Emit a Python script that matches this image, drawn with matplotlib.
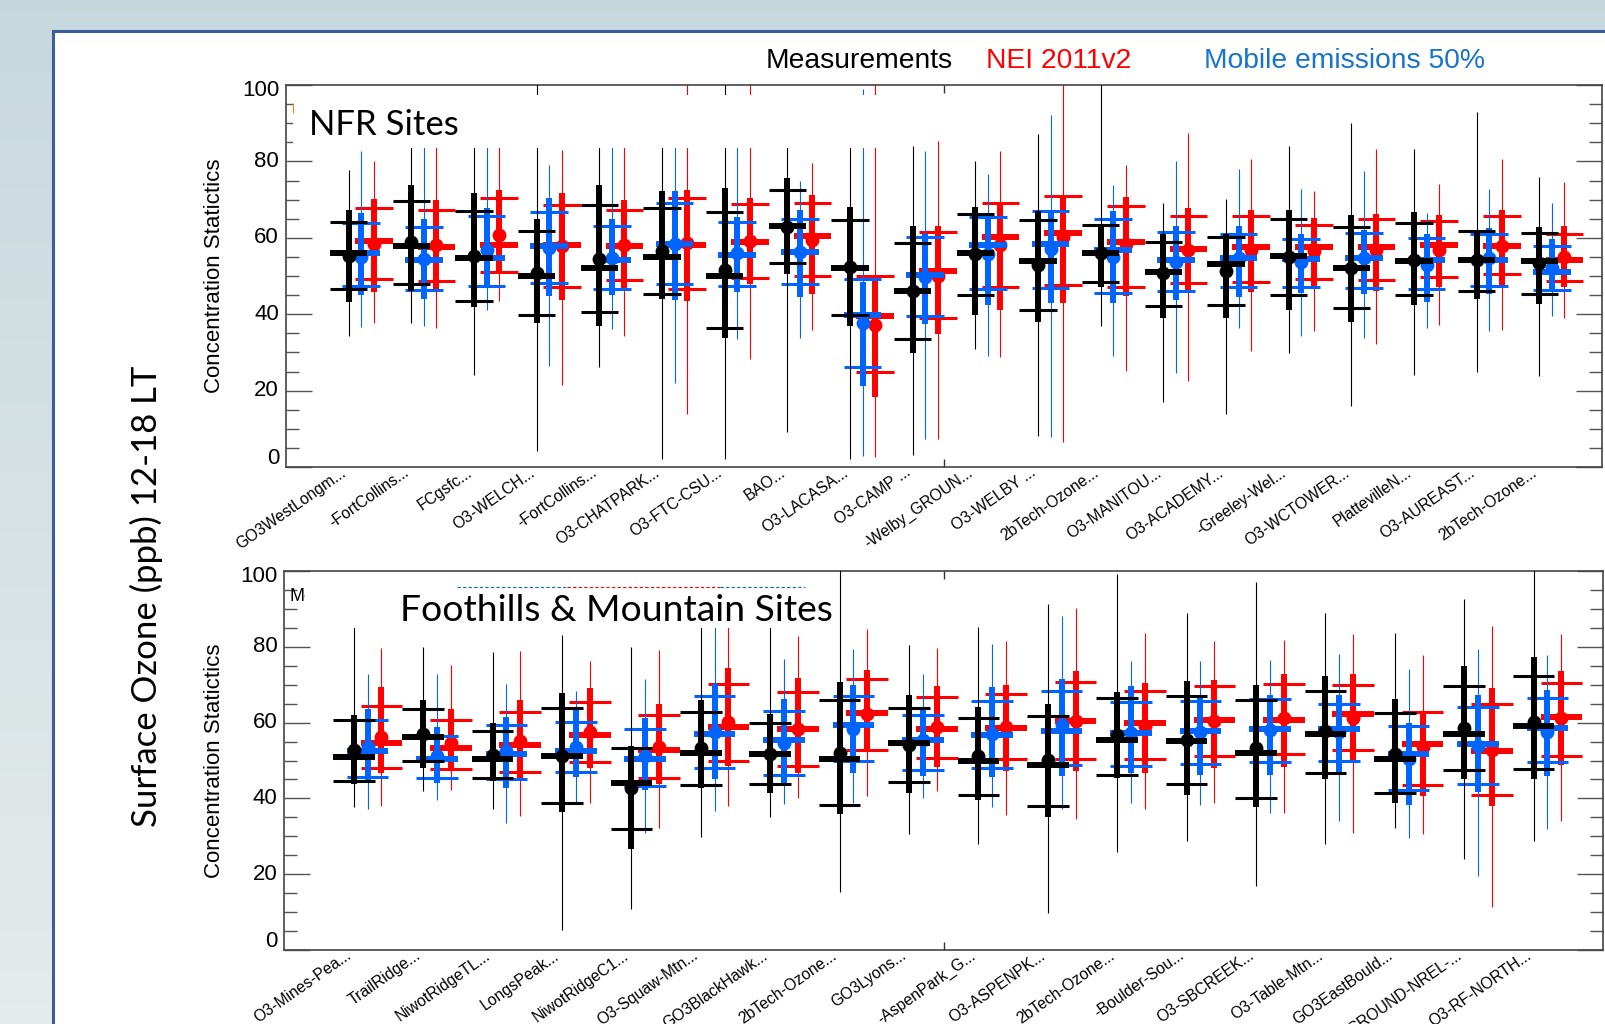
import matplotlib
matplotlib.use('Agg')
import matplotlib.pyplot as plt
import numpy as np
from matplotlib.patches import Rectangle
from matplotlib.ticker import FixedLocator, MultipleLocator

plt.rcParams['font.family'] = ['Liberation Sans', 'DejaVu Sans']

# station names along the x axis
NFR_SITES = ['GO3WestLongm...', '-FortCollins...', 'FCgsfc...', 'O3-WELCH...',
             '-FortCollins...', 'O3-CHATPARK...', 'O3-FTC-CSU...', 'BAO...',
             'O3-LACASA...', 'O3-CAMP ...', '-Welby_GROUN...', 'O3-WELBY ...',
             '2bTech-Ozone...', 'O3-MANITOU...', 'O3-ACADEMY...', '-Greeley-Wel...',
             'O3-WCTOWER...', 'PlattevilleN...', 'O3-AUREAST...', '2bTech-Ozone...']
MTN_SITES = ['O3-Mines-Pea...', 'TrailRidge...', 'NiwotRidgeTL...', 'LongsPeak...',
             'NiwotRidgeC1...', 'O3-Squaw-Mtn...', 'GO3BlackHawk...', '2bTech-Ozone...',
             'GO3Lyons...', '-AspenPark_G...', 'O3-ASPENPK...', '2bTech-Ozone...',
             '-Boulder-Sou...', 'O3-SBCREEK...', 'O3-Table-Mtn...', 'GO3EastBould...',
             'GROUND-NREL-...', 'O3-RF-NORTH...']

# rows: min, p10, p25, median, mean, p75, p90, max  (ppb)
NFR_MEAS = [
    [34.3, 43.1, 46.7, 55.9, 55.3, 64.2, 67.4, 77.7],
    [37.8, 46.0, 48.0, 57.9, 58.8, 69.7, 73.9, 90.0],
    [24.1, 41.9, 43.5, 54.6, 55.3, 67.0, 71.8, 90.0],
    [4.2, 37.8, 39.8, 50.0, 50.8, 61.7, 65.0, 102.0],
    [26.1, 37.0, 40.5, 52.0, 54.4, 68.7, 73.9, 90.0],
    [2.0, 44.1, 45.2, 55.0, 56.6, 67.7, 72.2, 90.0],
    [2.0, 33.8, 36.3, 50.0, 51.7, 66.8, 73.1, 102.0],
    [9.1, 50.5, 53.3, 63.0, 62.9, 72.4, 75.7, 90.0],
    [2.0, 37.0, 39.8, 52.1, 52.4, 64.6, 68.1, 90.0],
    [3.1, 29.9, 33.4, 46.1, 46.1, 58.7, 63.1, 84.0],
    [31.0, 39.9, 45.0, 56.1, 55.7, 66.3, 68.1, 80.0],
    [8.1, 38.0, 41.2, 54.0, 52.8, 64.6, 67.0, 87.1],
    [37.0, 47.0, 48.5, 56.1, 55.9, 63.3, 63.3, 102.0],
    [17.1, 38.9, 42.2, 51.1, 50.7, 58.9, 61.1, 69.1],
    [14.0, 38.9, 42.5, 53.1, 51.4, 60.1, 60.9, 70.1],
    [29.9, 41.1, 45.0, 55.2, 55.0, 65.0, 67.2, 84.0],
    [16.0, 38.0, 41.5, 52.2, 52.2, 62.7, 65.9, 90.1],
    [24.1, 42.4, 45.0, 53.9, 54.1, 63.9, 66.8, 83.2],
    [24.9, 44.1, 46.1, 54.1, 54.1, 61.7, 61.8, 92.9],
    [23.8, 42.6, 45.4, 54.0, 53.4, 61.3, 62.9, 75.9],
]
NFR_NEI = [
    [37.8, 45.9, 49.2, 59.2, 58.5, 67.8, 70.1, 80.0],
    [36.3, 45.9, 48.7, 57.6, 58.1, 67.4, 70.0, 90.0],
    [43.5, 51.1, 51.1, 58.2, 60.7, 70.3, 72.6, 90.0],
    [21.4, 43.7, 47.2, 58.1, 57.9, 68.7, 71.6, 83.0],
    [34.4, 46.7, 48.9, 57.9, 58.2, 67.4, 70.0, 90.0],
    [13.8, 43.5, 46.5, 58.2, 58.7, 70.4, 72.6, 102.0],
    [28.2, 47.9, 49.6, 58.8, 59.2, 68.8, 70.3, 102.0],
    [35.8, 45.2, 50.0, 60.5, 59.5, 69.0, 71.1, 79.7],
    [2.7, 18.4, 24.9, 39.6, 37.3, 50.0, 50.0, 102.0],
    [7.3, 34.8, 38.9, 51.4, 50.0, 61.6, 63.1, 85.3],
    [28.7, 41.2, 47.2, 60.2, 58.1, 69.0, 69.1, 82.7],
    [6.6, 43.0, 47.6, 61.3, 60.2, 70.9, 71.3, 102.0],
    [25.2, 44.7, 47.0, 58.9, 58.5, 68.4, 70.7, 79.0],
    [22.5, 45.6, 48.2, 57.0, 56.8, 65.6, 67.7, 87.5],
    [30.3, 45.7, 48.5, 57.6, 56.8, 65.6, 67.4, 80.5],
    [35.7, 47.3, 49.2, 57.6, 56.6, 63.3, 65.2, 72.2],
    [32.3, 46.1, 48.9, 57.5, 56.8, 65.0, 66.1, 83.2],
    [37.3, 47.2, 49.8, 58.2, 56.8, 64.4, 65.9, 74.2],
    [35.8, 47.6, 50.5, 57.9, 57.9, 65.6, 67.4, 80.6],
    [39.1, 47.0, 48.6, 54.1, 55.0, 60.9, 63.0, 74.6],
]
NFR_MOB50 = [
    [36.7, 45.0, 47.4, 56.1, 55.0, 63.9, 66.6, 82.6],
    [36.9, 43.9, 46.3, 54.1, 54.4, 62.7, 64.8, 90.0],
    [41.1, 47.0, 47.4, 54.6, 56.8, 65.6, 67.7, 90.0],
    [26.5, 44.7, 48.2, 57.9, 57.2, 66.8, 70.3, 79.0],
    [36.0, 45.0, 46.6, 54.1, 54.8, 63.0, 64.8, 90.0],
    [21.9, 43.7, 48.0, 58.5, 58.5, 69.0, 72.3, 90.0],
    [33.4, 45.9, 47.4, 55.6, 56.1, 64.2, 65.5, 90.0],
    [33.9, 44.4, 47.8, 56.3, 56.3, 65.0, 67.2, 74.8],
    [3.0, 21.2, 26.2, 39.9, 37.8, 49.2, 48.5, 99.0],
    [7.3, 37.4, 39.5, 50.2, 49.8, 60.2, 61.1, 82.6],
    [29.0, 42.4, 46.5, 58.1, 55.7, 65.5, 65.7, 76.8],
    [7.9, 43.0, 46.9, 58.5, 57.0, 67.0, 67.0, 92.1],
    [29.0, 43.0, 45.6, 56.8, 55.0, 64.8, 67.0, 73.8],
    [24.5, 43.7, 46.1, 54.1, 53.7, 61.6, 63.1, 80.0],
    [36.4, 44.6, 47.0, 54.6, 54.8, 60.9, 63.1, 77.9],
    [34.4, 45.6, 47.2, 54.4, 53.7, 59.8, 61.1, 72.7],
    [33.9, 45.4, 46.9, 54.6, 54.6, 61.3, 62.0, 77.4],
    [36.3, 43.2, 46.7, 54.1, 52.8, 60.0, 61.1, 66.5],
    [35.7, 45.4, 47.4, 54.3, 54.6, 61.1, 62.6, 72.7],
    [39.5, 46.1, 46.3, 51.1, 52.0, 57.8, 59.8, 69.1],
]

MTN_MEAS = [
    [37.8, 43.9, 44.6, 51.0, 52.7, 60.6, 62.0, 90.0],
    [41.9, 48.1, 49.9, 56.1, 56.9, 63.7, 65.9, 80.0],
    [37.1, 44.6, 45.3, 50.4, 51.4, 57.8, 59.9, 78.5],
    [5.4, 36.5, 38.8, 51.2, 51.2, 63.9, 67.8, 83.2],
    [10.8, 26.6, 31.9, 44.1, 42.8, 53.4, 53.9, 80.0],
    [29.9, 42.8, 43.5, 52.1, 53.4, 62.7, 65.9, 90.0],
    [35.1, 41.5, 43.9, 51.7, 51.8, 59.8, 62.2, 90.0],
    [15.4, 36.0, 38.2, 50.3, 52.1, 65.9, 70.7, 102.0],
    [30.5, 41.3, 44.4, 54.5, 54.0, 63.9, 67.2, 80.6],
    [27.9, 39.7, 41.0, 49.9, 51.1, 61.3, 64.1, 85.2],
    [9.8, 35.0, 38.0, 48.9, 50.1, 61.8, 65.0, 91.2],
    [25.9, 45.3, 46.1, 55.4, 56.7, 66.5, 68.1, 99.1],
    [28.8, 40.9, 43.8, 55.1, 55.5, 67.0, 70.9, 89.0],
    [17.0, 37.8, 40.0, 52.1, 53.2, 65.9, 70.0, 97.1],
    [27.9, 45.0, 46.8, 57.1, 57.7, 68.3, 72.2, 89.0],
    [32.3, 38.7, 41.3, 50.5, 51.8, 62.6, 66.3, 83.7],
    [23.9, 45.1, 47.5, 57.1, 58.7, 69.7, 75.0, 92.5],
    [28.8, 45.0, 47.7, 59.1, 60.2, 72.2, 77.2, 102.0],
]
MTN_NEI = [
    [38.0, 46.8, 47.9, 54.7, 56.1, 64.4, 69.4, 79.8],
    [42.2, 47.3, 47.7, 53.2, 54.5, 60.8, 63.5, 75.3],
    [35.3, 45.0, 47.0, 54.2, 55.1, 62.8, 65.9, 78.8],
    [38.7, 48.1, 49.6, 56.7, 57.6, 65.5, 69.0, 76.2],
    [32.1, 43.9, 45.3, 52.9, 53.6, 62.0, 64.8, 79.1],
    [38.0, 48.6, 49.8, 58.9, 60.2, 70.3, 74.5, 90.0],
    [40.0, 46.6, 48.6, 58.3, 58.3, 68.1, 71.8, 82.8],
    [40.7, 52.7, 52.7, 62.6, 62.4, 71.6, 73.8, 84.8],
    [42.0, 48.3, 50.7, 58.3, 58.9, 66.8, 69.6, 79.8],
    [35.6, 47.2, 50.3, 58.7, 58.9, 67.5, 69.9, 81.5],
    [34.5, 47.2, 50.5, 60.4, 60.5, 70.7, 73.5, 90.2],
    [37.1, 46.8, 50.3, 59.8, 59.1, 68.3, 70.5, 83.7],
    [38.7, 48.1, 51.1, 60.6, 60.4, 69.7, 71.2, 81.5],
    [36.2, 48.3, 51.6, 60.8, 61.1, 70.3, 72.8, 81.7],
    [30.9, 49.4, 52.9, 62.2, 61.2, 69.9, 72.7, 83.5],
    [30.5, 40.6, 43.5, 54.3, 53.6, 62.8, 62.8, 77.8],
    [11.4, 38.0, 41.0, 52.5, 52.7, 65.0, 69.0, 85.4],
    [34.0, 48.8, 51.2, 61.5, 61.1, 70.5, 73.5, 83.3],
]
MTN_MOB50 = [
    [37.3, 44.4, 45.7, 52.5, 53.6, 60.6, 63.5, 72.9],
    [39.7, 44.1, 45.4, 50.4, 51.1, 56.5, 58.9, 72.7],
    [33.4, 42.8, 45.0, 51.8, 52.5, 59.3, 61.5, 70.3],
    [38.7, 45.7, 47.0, 52.5, 53.6, 60.2, 64.1, 68.3],
    [31.0, 42.2, 43.3, 50.4, 51.1, 58.3, 61.1, 71.4],
    [36.6, 45.1, 47.9, 57.1, 57.6, 67.0, 70.3, 90.0],
    [38.4, 43.9, 46.3, 55.4, 54.7, 63.1, 66.3, 76.9],
    [38.7, 46.8, 49.9, 59.3, 58.4, 67.0, 69.9, 79.3],
    [40.2, 45.9, 47.6, 55.4, 55.4, 62.0, 63.3, 72.7],
    [37.8, 45.7, 48.1, 56.7, 57.1, 65.6, 69.4, 80.7],
    [37.3, 45.9, 48.8, 57.7, 59.3, 68.3, 71.4, 88.0],
    [38.7, 46.7, 48.5, 57.3, 57.3, 65.5, 69.6, 76.2],
    [38.2, 46.1, 49.2, 57.7, 57.4, 65.7, 66.5, 76.2],
    [36.2, 46.3, 49.6, 58.4, 58.0, 66.1, 67.4, 76.4],
    [34.0, 46.6, 49.9, 58.3, 57.5, 65.0, 67.2, 78.0],
    [29.6, 38.2, 42.2, 51.8, 50.5, 59.1, 59.9, 74.1],
    [19.5, 41.6, 43.9, 54.3, 53.9, 64.1, 67.2, 79.3],
    [31.9, 45.9, 49.6, 58.7, 57.6, 66.6, 68.5, 77.9],
]

BLACK = '#000000'
RED = '#ff0000'
BLUE = '#0064ff'
LEGEND_BLUE = '#1874cd'

W, H = 1605, 1024
fig = plt.figure(figsize=(W / 100, H / 100), dpi=100)

# slide background: grey-blue gradient behind a white panel
bg = fig.add_axes([0, 0, 1, 1], zorder=-10)
bg.set_axis_off()
t = np.linspace(0, 1, 256)[:, None]
top_c = np.array([0.78, 0.85, 0.87])
bot_c = np.array([0.90, 0.92, 0.92])
grad = top_c + (bot_c - top_c) * t
bg.imshow(np.repeat(grad[:, None, :], 4, axis=1), aspect='auto', extent=[0, 1, 0, 1])
bg.set_xlim(0, 1)
bg.set_ylim(0, 1)
bg.add_patch(Rectangle((53 / W, -0.02), 1.0, 1 - 31 / H + 0.02, facecolor='white',
                       edgecolor='#3d5c9c', lw=2.2))


def draw_panel(ax, sites, series):
    n = len(sites)
    ax.set_xlim(0, n + 1)
    ax.set_ylim(0, 100)
    pos = np.arange(1, n + 1)
    for rows, color, off, z in series:
        d = np.array(rows)
        x = pos + off
        lo, p10, p25, med, mean, p75, p90, hi = d.T
        ax.vlines(x, lo, hi, color=color, lw=0.8, zorder=z)
        ax.vlines(x, p10, p90, color=color, lw=4.3, zorder=z)
        ax.hlines(p25, x - 0.3, x + 0.3, color=color, lw=2.2, zorder=z)
        ax.hlines(p75, x - 0.3, x + 0.3, color=color, lw=2.2, zorder=z)
        ax.hlines(med, x - 0.3, x + 0.3, color=color, lw=4.3, zorder=z)
        ax.plot(x, mean, 'o', color=color, ms=10, mec='none', zorder=z)

    for sp in ax.spines.values():
        sp.set_color('#444444')
        sp.set_linewidth(1.2)
    ax.yaxis.set_major_locator(FixedLocator(range(0, 101, 20)))
    ax.yaxis.set_minor_locator(MultipleLocator(5))
    ax.tick_params(axis='y', which='major', direction='in', length=19, width=1,
                   color='#555555', left=True, right=True, labelleft=False)
    ax.tick_params(axis='y', which='minor', direction='in', length=9.5, width=1,
                   color='#555555', left=True, right=True)
    ax.set_xticks([])
    ax.xaxis.set_minor_locator(FixedLocator([(n + 1) / 2]))
    ax.tick_params(axis='x', which='minor', direction='in', length=6, width=1,
                   color='#333333', top=True, bottom=True)

    for v in range(0, 101, 20):
        dy = 6 if v == 0 else (-4 if v == 100 else 0)
        ax.annotate(str(v), xy=(0, v), xycoords=('axes fraction', 'data'),
                    xytext=(-5, dy), textcoords='offset points',
                    ha='right', va='center', fontsize=16)
    for p, name in zip(pos, sites):
        ax.text(p - 0.02, -2.0, name, rotation=35, ha='right', va='baseline',
                rotation_mode='anchor', fontsize=11.3, clip_on=False)


ax1 = fig.add_axes([286 / W, 1 - 467 / H, 1316 / W, 382 / H])
draw_panel(ax1, NFR_SITES, [(NFR_NEI, RED, 0.4, 2),
                            (NFR_MOB50, BLUE, 0.2, 3),
                            (NFR_MEAS, BLACK, 0.0, 4)])
ax2 = fig.add_axes([284.3 / W, 1 - 950 / H, 1318.7 / W, 379 / H])
draw_panel(ax2, MTN_SITES, [(MTN_NEI, RED, 0.4, 2),
                            (MTN_MOB50, BLUE, 0.2, 3),
                            (MTN_MEAS, BLACK, 0.0, 4)])

# white caption boxes pasted over the plot tops
ax1.add_patch(Rectangle((0.11, 83.4), 9.77, 13.9, facecolor='white',
                        edgecolor='none', zorder=10))
ax1.vlines(0.107, 92.6, 95.2, color='#e08a1e', lw=0.8, zorder=11)
ax1.text(0.37, 86.8, 'NFR Sites', fontsize=25, family=['Lato', 'DejaVu Sans'],
         ha='left', va='baseline', zorder=11)

ax2.text(0.08, 92.0, 'Measurements', fontsize=13, ha='left', va='baseline', zorder=9)
ax2.hlines(95.8, 2.49, 4.08, color=BLUE, lw=0.8, linestyles=(0, (3, 2)), zorder=9)
ax2.hlines(95.8, 4.08, 6.28, color=RED, lw=0.8, linestyles=(0, (3, 2)), zorder=9)
ax2.hlines(95.8, 6.28, 7.5, color=BLUE, lw=0.8, linestyles=(0, (3, 2)), zorder=9)
ax2.add_patch(Rectangle((0.30, 85.0), 7.65, 10.2, facecolor='white',
                        edgecolor='none', zorder=10))
ax2.text(1.667, 86.8, 'Foothills & Mountain Sites', fontsize=26.8,
         family=['Lato', 'DejaVu Sans'], ha='left', va='baseline', zorder=11)

# axis titles and series key
for ax in (ax1, ax2):
    bb = ax.get_position()
    fig.text(215 / W, bb.y0 + bb.height / 2, 'Concentration Statictics', rotation=90,
             ha='center', va='center', fontsize=16)
fig.text(146 / W, 1 - 596 / H, 'Surface Ozone (ppb) 12-18 LT', rotation=90,
         ha='center', va='center', fontsize=25, family=['Lato', 'DejaVu Sans'])

fig.text(766 / W, 1 - 68 / H, 'Measurements', color=BLACK, fontsize=20.3, va='baseline')
fig.text(986 / W, 1 - 68 / H, 'NEI 2011v2', color=RED, fontsize=20.3, va='baseline')
fig.text(1204 / W, 1 - 68 / H, 'Mobile emissions 50%', color=LEGEND_BLUE, fontsize=20.3,
         va='baseline')

fig.savefig('out.png', dpi=100)
